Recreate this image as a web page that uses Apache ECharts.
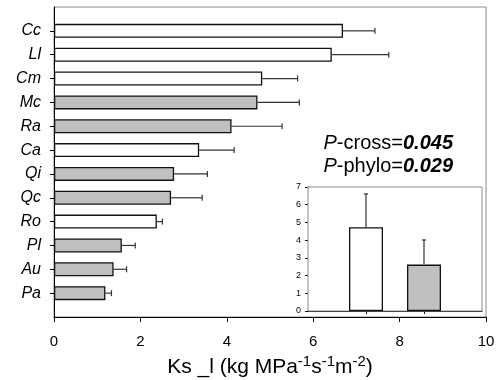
<!DOCTYPE html>
<html>
<head>
<meta charset="utf-8">
<script src="https://cdn.jsdelivr.net/npm/echarts@6/dist/echarts.min.js"></script>
<style>
html,body{margin:0;padding:0;background:#fff;}
#chart{width:498px;height:380px;}
</style>
</head>
<body>
<div id="chart"></div>
<script>
// ---- data ----
const categories = ['Cc', 'Ll', 'Cm', 'Mc', 'Ra', 'Ca', 'Qi', 'Qc', 'Ro', 'Pl', 'Au', 'Pa'];
const ksValues   = [6.69, 6.43, 4.82, 4.71, 4.11, 3.36, 2.78, 2.71, 2.38, 1.57, 1.38, 1.19];
const ksErrors   = [0.74, 1.32, 0.82, 0.97, 1.17, 0.81, 0.77, 0.72, 0.13, 0.31, 0.30, 0.14];
const groupType  = ['open', 'open', 'open', 'shaded', 'shaded', 'open', 'shaded', 'shaded', 'open', 'shaded', 'shaded', 'shaded'];

const insetGroups = ['open', 'shaded'];
const insetMeans  = [4.73, 2.62];
const insetErrors = [1.88, 1.39];

const pCross = '0.045';
const pPhylo = '0.029';

// ---- build ----
const FONT = "'Liberation Sans', Arial, sans-serif";
const fillOf = { open: '#ffffff', shaded: '#c0c0c0' };

const yCats = [''].concat(categories, ['']);
const barData = ['-'].concat(ksValues.map((v, i) => ({
  value: v,
  itemStyle: { color: fillOf[groupType[i]] }
})), ['-']);
const errData = ksValues.map((v, i) => [v, i + 1, v + ksErrors[i]]);

const insetCats = [''].concat(insetGroups, ['']);
const insetBarData = ['-'].concat(insetMeans.map((v, i) => ({
  value: v,
  itemStyle: { color: fillOf[insetGroups[i]] }
})), ['-']);
const insetErrData = insetMeans.map((v, i) => [i + 1, v, v + insetErrors[i]]);

const chart = echarts.init(document.getElementById('chart'), null, { renderer: 'canvas' });

const option = {
  animation: false,
  backgroundColor: '#ffffff',
  textStyle: { fontFamily: FONT },
  grid: [
    { left: 54, right: 12, top: 7, bottom: 63, show: true, borderColor: '#8a8a8a', borderWidth: 1, backgroundColor: '#fff', outerBoundsMode: 'none', containLabel: false },
    { left: 308, right: 16, top: 187, bottom: 69, show: true, borderColor: '#8a8a8a', borderWidth: 1, backgroundColor: '#fff', z: 5, outerBoundsMode: 'none', containLabel: false }
  ],
  xAxis: [
    {
      gridIndex: 0, type: 'value', min: 0, max: 10, interval: 2,
      splitLine: { show: false },
      axisLine: { show: true, lineStyle: { color: '#000', width: 1 } },
      axisTick: { show: true, inside: false, length: 5, lineStyle: { color: '#000' } },
      axisLabel: { fontSize: 15, color: '#000', margin: 17, fontFamily: FONT },
      name: '{n|Ks _l (kg MPa}{s|-1}{n|s}{s|-1}{n|m}{s|-2}{n|)}',
      nameLocation: 'middle', nameGap: 38,
      nameTextStyle: {
        rich: {
          n: { fontSize: 21, fontFamily: FONT, color: '#000', lineHeight: 22, verticalAlign: 'bottom' },
          s: { fontSize: 15, fontFamily: FONT, color: '#000', lineHeight: 15, verticalAlign: 'bottom', padding: [0, 0, 9, 0] }
        }
      }
    },
    {
      gridIndex: 1, type: 'category', data: insetCats, boundaryGap: false,
      axisLine: { show: true, lineStyle: { color: '#000', width: 1 } },
      axisTick: { show: true, length: 3, interval: (idx) => idx > 0 && idx < insetCats.length - 1, lineStyle: { color: '#000' } },
      axisLabel: { show: false },
      splitLine: { show: false }
    }
  ],
  yAxis: [
    {
      gridIndex: 0, type: 'category', data: yCats, inverse: true, boundaryGap: false,
      axisLine: { show: true, lineStyle: { color: '#000', width: 1 } },
      axisTick: { show: true, length: 4, interval: (idx) => idx > 0 && idx < yCats.length - 1, lineStyle: { color: '#000' } },
      axisLabel: { fontSize: 16, fontStyle: 'italic', color: '#000', margin: 13, fontFamily: FONT, interval: 0 },
      splitLine: { show: false }
    },
    {
      gridIndex: 1, type: 'value', min: 0, max: 7, interval: 1,
      axisLine: { show: true, lineStyle: { color: '#000', width: 1 } },
      axisTick: { show: true, length: 3, lineStyle: { color: '#000' } },
      axisLabel: { fontSize: 9, color: '#000', margin: 7, fontFamily: FONT },
      splitLine: { show: false }
    }
  ],
  series: [
    {
      type: 'bar', xAxisIndex: 0, yAxisIndex: 0, data: barData, barWidth: 14,
      itemStyle: { borderColor: '#111', borderWidth: 1.3 },
      z: 2
    },
    {
      type: 'custom', xAxisIndex: 0, yAxisIndex: 0, data: errData,
      encode: { x: [0, 2], y: 1 },
      z: 3,
      renderItem: function (params, api) {
        const idx = api.value(1);
        const p0 = api.coord([api.value(0), idx]);
        const p1 = api.coord([api.value(2), idx]);
        const st = { stroke: '#333', lineWidth: 1.2 };
        return {
          type: 'group',
          children: [
            { type: 'line', shape: { x1: p0[0], y1: p0[1], x2: p1[0], y2: p1[1] }, style: st },
            { type: 'line', shape: { x1: p1[0], y1: p1[1] - 3, x2: p1[0], y2: p1[1] + 3 }, style: st }
          ]
        };
      }
    },
    {
      type: 'bar', xAxisIndex: 1, yAxisIndex: 1, data: insetBarData, barWidth: 34,
      itemStyle: { borderColor: '#111', borderWidth: 1.3 },
      z: 6
    },
    {
      type: 'custom', xAxisIndex: 1, yAxisIndex: 1, data: insetErrData,
      encode: { x: 0, y: [1, 2] },
      z: 7,
      renderItem: function (params, api) {
        const idx = api.value(0);
        const p0 = api.coord([idx, api.value(1)]);
        const p1 = api.coord([idx, api.value(2)]);
        const st = { stroke: '#333', lineWidth: 1.2 };
        return {
          type: 'group',
          children: [
            { type: 'line', shape: { x1: p0[0], y1: p0[1], x2: p1[0], y2: p1[1] }, style: st },
            { type: 'line', shape: { x1: p1[0] - 2, y1: p1[1], x2: p1[0] + 2, y2: p1[1] }, style: st }
          ]
        };
      }
    }
  ],
  graphic: [
    {
      type: 'text', right: 45, top: 133, z: 10,
      style: {
        text: '{i|P}{n|-cross=}{b|' + pCross + '}',
        rich: {
          i: { fontSize: 20, fontStyle: 'italic', fontFamily: FONT, fill: '#000' },
          n: { fontSize: 20, fontFamily: FONT, fill: '#000' },
          b: { fontSize: 20, fontStyle: 'italic', fontWeight: 'bold', fontFamily: FONT, fill: '#000' }
        }
      }
    },
    {
      type: 'text', right: 45, top: 156, z: 10,
      style: {
        text: '{i|P}{n|-phylo=}{b|' + pPhylo + '}',
        rich: {
          i: { fontSize: 20, fontStyle: 'italic', fontFamily: FONT, fill: '#000' },
          n: { fontSize: 20, fontFamily: FONT, fill: '#000' },
          b: { fontSize: 20, fontStyle: 'italic', fontWeight: 'bold', fontFamily: FONT, fill: '#000' }
        }
      }
    }
  ]
};

chart.setOption(option);
</script>
</body>
</html>
